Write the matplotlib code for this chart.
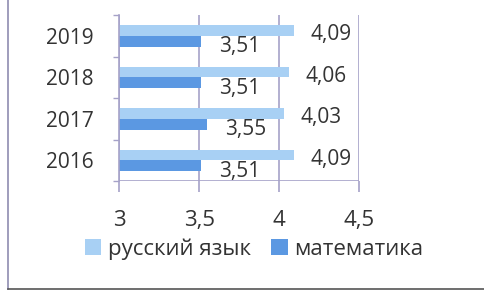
import numpy as np
import matplotlib.pyplot as plt
from matplotlib.lines import Line2D

years = ['2016', '2017', '2018', '2019']
russian = [4.09, 4.03, 4.06, 4.09]
maths = [3.51, 3.55, 3.51, 3.51]
russian_labels = ['4,09', '4,03', '4,06', '4,09']
maths_labels = ['3,51', '3,55', '3,51', '3,51']
xticks = [3, 3.5, 4, 4.5]
xtick_labels = ['3', '3,5', '4', '4,5']

plt.rcParams['font.family'] = ['Open Sans', 'DejaVu Sans']

light = '#a8d0f4'
dark = '#5b98e2'
grid_col = '#a6a2c8'
text_col = '#333333'

fig = plt.figure(figsize=(4.84, 2.95), dpi=100)
ax = fig.add_axes([0.246, 0.386, 0.496, 0.563])

y = np.arange(len(years))
h = 0.26
ax.barh(y + h / 2, [r - 3 for r in russian], h, left=3, color=light, label='русский язык')
ax.barh(y - h / 2, [m - 3 for m in maths], h, left=3, color=dark, label='математика')

for i in range(len(years)):
    ax.annotate(russian_labels[i], (russian[i], y[i] + h / 2), xytext=(12, -3),
                textcoords='offset points', ha='left', va='center', fontsize=15, color=text_col)
    ax.annotate(maths_labels[i], (maths[i], y[i] - h / 2), xytext=(13, -4),
                textcoords='offset points', ha='left', va='center', fontsize=15, color=text_col)

ax.set_xlim(3, 4.5)
ax.set_ylim(-0.5, len(years) - 0.5)
ax.set_xticks(xticks)
ax.set_xticklabels(xtick_labels, fontsize=16, color=text_col)
ax.set_yticks(y)
ax.set_yticklabels(years, fontsize=15, color=text_col)
ax.set_yticks(np.arange(-0.5, len(years), 1), minor=True)
ax.tick_params(axis='y', which='major', length=0, pad=18)
ax.tick_params(axis='y', which='minor', length=4, color=grid_col, width=1)
ax.tick_params(axis='x', length=8, color=grid_col, width=1.2, pad=13)

ax.grid(True, axis='x', color=grid_col, linewidth=1.2)
ax.set_axisbelow(True)
for s in ['top', 'right', 'bottom']:
    ax.spines[s].set_visible(False)
ax.spines['left'].set_color(grid_col)
ax.spines['left'].set_linewidth(1.2)
ax.axhline(-0.5, color=grid_col, linewidth=1.2)

fig.legend(loc='center', bbox_to_anchor=(0.525, 0.155), ncol=2, frameon=False,
           fontsize=16, handlelength=0.75, handleheight=0.75, handletextpad=0.3,
           columnspacing=0.9, labelcolor=text_col)

# outer frame edges
fig.add_artist(Line2D([0.017, 0.017], [0.02, 1.0], color='#8f8cb0', linewidth=1.2))
fig.add_artist(Line2D([0.017, 1.0], [0.02, 0.02], color='#555555', linewidth=1.2))

fig.savefig('out.png', dpi=100)
